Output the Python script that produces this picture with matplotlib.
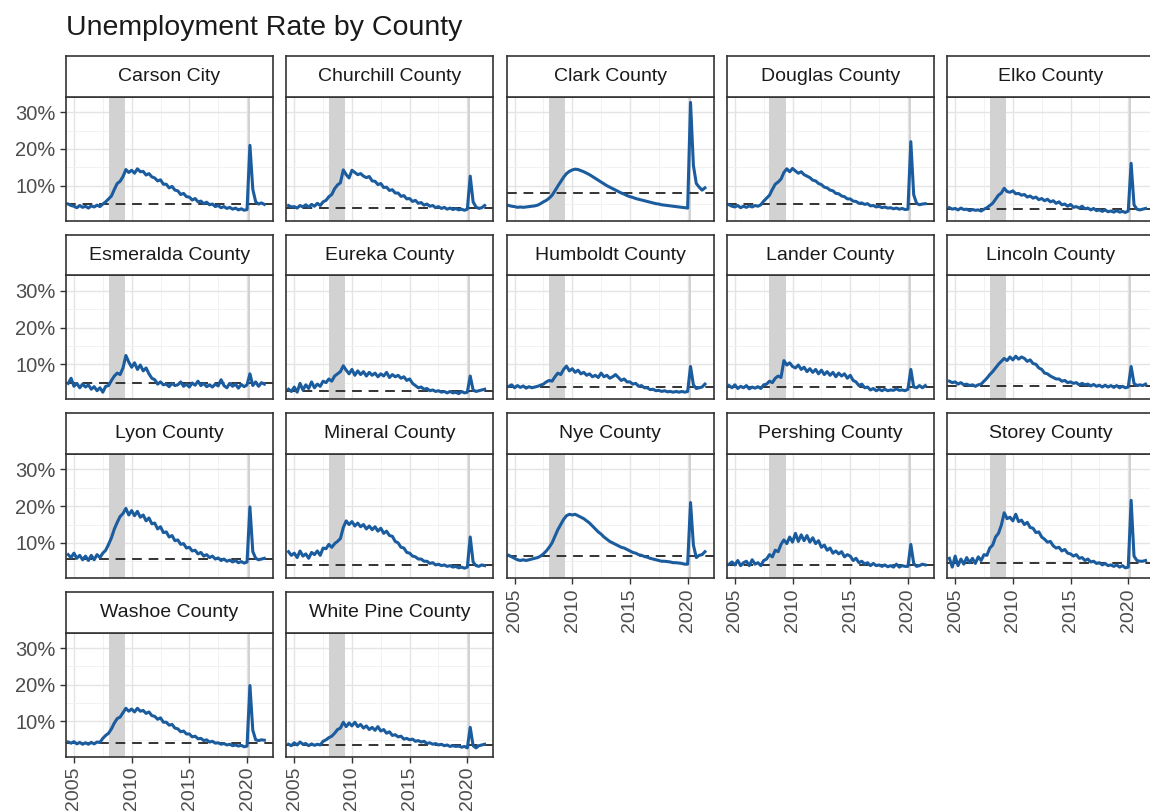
import matplotlib.pyplot as plt
import numpy as np
import pandas as pd
from matplotlib.ticker import FuncFormatter

plt.rcParams["font.family"] = ["Liberation Sans", "DejaVu Sans"]

# Quarterly unemployment rate (%), Jul 2004 - Jul 2021
dates = pd.date_range("2004-07-01", "2021-07-01", freq="QS")
years = dates.year + (dates.month - 1) / 12

carson_city = [5.0, 4.6,
               4.4, 4.0, 4.6, 4.1, 4.4, 3.9, 4.5, 4.2, 4.7, 4.3, 5.0, 5.6,
               6.4, 7.2, 9.0, 10.6, 11.2, 12.5, 14.4, 13.6, 14.2, 13.4, 14.6, 13.8,
               13.9, 12.9, 13.3, 12.4, 12.1, 11.3, 11.6, 10.4, 10.4, 9.4, 9.8, 8.8,
               8.6, 7.6, 7.9, 7.0, 6.9, 6.1, 6.5, 5.6, 5.8, 5.1, 5.5, 4.8,
               5.0, 4.3, 4.6, 4.0, 4.3, 3.8, 4.1, 3.6, 3.9, 3.4, 3.7, 3.3,
               3.5, 21.0, 9.0, 5.6, 5.0, 5.3, 4.9]
churchill = [4.6, 4.2,
             4.3, 3.9, 4.6, 4.2, 4.8, 4.1, 4.9, 4.4, 5.2, 4.6, 5.6, 6.0,
             7.0, 7.6, 9.2, 10.2, 10.8, 14.3, 13.0, 12.1, 14.2, 13.6, 13.0, 13.3,
             12.6, 12.2, 12.5, 11.3, 11.2, 10.3, 10.6, 9.5, 9.6, 8.7, 8.9, 8.0,
             8.0, 7.1, 7.3, 6.4, 6.5, 5.7, 6.0, 5.2, 5.4, 4.7, 5.0, 4.4,
             4.6, 4.0, 4.3, 3.8, 4.1, 3.6, 3.9, 3.5, 3.8, 3.4, 3.6, 3.3,
             3.6, 12.6, 5.6, 4.2, 3.8, 4.0, 4.6]
clark = [4.6, 4.4,
         4.3, 4.1, 4.2, 4.1, 4.2, 4.3, 4.4, 4.5, 4.7, 5.1, 5.6, 6.0,
         6.6, 7.4, 8.6, 9.9, 11.1, 12.3, 13.3, 13.9, 14.3, 14.5, 14.4, 14.1,
         13.8, 13.4, 13.0, 12.5, 12.0, 11.5, 11.0, 10.5, 10.0, 9.6, 9.2, 8.8,
         8.4, 8.0, 7.7, 7.3, 7.0, 6.8, 6.5, 6.3, 6.1, 5.9, 5.7, 5.5,
         5.3, 5.1, 5.0, 4.8, 4.7, 4.6, 4.5, 4.4, 4.3, 4.2, 4.1, 4.0,
         3.9, 32.7, 15.5, 10.6, 9.6, 8.8, 9.4]
douglas = [4.8, 4.4,
           4.2, 4.6, 4.0, 4.4, 4.1, 4.5, 4.2, 4.6, 4.4, 4.8, 5.8, 6.6,
           7.4, 9.0, 10.4, 11.0, 11.8, 13.6, 14.6, 13.8, 14.7, 14.0, 13.4, 13.8,
           13.0, 12.6, 12.2, 11.5, 11.3, 10.6, 10.3, 9.6, 9.4, 8.8, 8.6, 7.9,
           7.8, 7.2, 7.0, 6.4, 6.4, 5.8, 5.7, 5.2, 5.3, 4.9, 5.1, 4.5,
           4.6, 4.2, 4.4, 4.0, 4.2, 3.9, 4.0, 3.7, 3.9, 3.6, 3.8, 3.5,
           3.6, 22.0, 7.5, 5.2, 4.8, 5.0, 5.1]
elko = [4.0, 3.6,
        3.8, 3.4, 3.9, 3.5, 3.6, 3.2, 3.5, 3.3, 3.4, 3.1, 3.6, 4.0,
        4.6, 5.2, 6.3, 7.4, 8.0, 9.3, 8.4, 8.2, 8.6, 7.8, 7.9, 7.4,
        7.6, 6.9, 7.2, 6.6, 6.9, 6.2, 6.5, 5.9, 6.3, 5.6, 5.9, 5.2,
        5.6, 4.8, 5.0, 4.4, 4.9, 4.1, 4.3, 3.9, 4.4, 3.7, 3.9, 3.4,
        3.8, 3.2, 3.4, 3.0, 3.4, 2.9, 3.1, 2.8, 3.2, 2.8, 3.0, 2.7,
        3.1, 16.1, 4.8, 3.6, 3.4, 3.6, 3.8]
esmeralda = [4.8, 6.2,
             4.0, 4.8, 3.6, 4.6, 3.8, 4.4, 3.2, 3.9, 2.8, 3.6, 2.4, 4.0,
             4.2, 5.6, 6.8, 7.6, 7.2, 9.0, 12.4, 10.6, 9.2, 10.4, 8.6, 9.8,
             8.2, 9.0, 7.4, 6.2, 5.8, 4.6, 5.2, 4.4, 4.6, 3.9, 4.8, 4.2,
             4.4, 5.2, 4.0, 4.6, 3.8, 4.9, 4.3, 5.4, 4.2, 4.8, 3.9, 4.4,
             3.8, 4.6, 4.1, 5.8, 4.2, 3.6, 4.8, 4.0, 4.6, 3.5, 4.5, 3.9,
             4.4, 7.4, 4.2, 5.2, 4.0, 5.0, 4.6]
eureka = [3.2, 2.6,
          3.8, 2.4, 4.8, 3.0, 4.4, 3.4, 5.2, 3.6, 4.6, 4.0, 5.4, 5.0,
          6.0, 5.4, 6.8, 7.4, 8.0, 9.6, 8.4, 7.4, 8.6, 7.0, 8.2, 7.2,
          8.0, 6.8, 7.8, 7.0, 7.6, 6.6, 7.4, 6.8, 7.8, 6.4, 7.2, 6.6,
          7.0, 6.2, 6.6, 5.6, 6.0, 4.8, 4.2, 3.6, 3.8, 3.2, 3.4, 2.8,
          3.0, 2.6, 2.8, 2.4, 2.6, 2.2, 2.6, 2.2, 2.4, 2.0, 2.6, 2.2,
          2.4, 6.8, 3.0, 2.6, 2.8, 3.0, 3.2]
humboldt = [4.0, 4.4,
            3.6, 4.2, 3.7, 4.1, 3.5, 3.9, 3.6, 3.8, 4.0, 4.3, 4.6, 5.2,
            5.6, 5.4, 6.6, 7.6, 7.2, 8.6, 9.5, 8.2, 8.8, 7.8, 8.4, 7.4,
            7.8, 7.0, 7.4, 6.6, 7.0, 6.4, 7.6, 6.6, 7.0, 6.2, 6.6, 7.2,
            6.4, 5.6, 6.0, 5.2, 5.2, 4.6, 4.8, 4.0, 4.2, 3.6, 3.6, 3.1,
            3.2, 2.8, 2.9, 2.6, 2.8, 2.5, 2.6, 2.4, 2.6, 2.4, 2.6, 2.4,
            2.6, 9.4, 4.4, 3.4, 3.6, 3.8, 4.6]
lander = [4.2, 3.6,
          4.4, 3.4, 4.0, 3.6, 4.2, 3.3, 3.8, 3.5, 3.9, 3.4, 4.4, 4.6,
          5.4, 5.0, 6.2, 6.8, 6.4, 11.0, 9.8, 10.4, 9.4, 9.0, 9.8, 8.6,
          9.2, 8.0, 8.8, 7.8, 8.6, 7.4, 8.4, 7.2, 8.0, 7.0, 7.8, 6.6,
          7.6, 6.8, 7.4, 6.2, 7.0, 5.6, 5.2, 4.2, 4.6, 3.6, 3.8, 3.0,
          3.4, 2.8, 3.2, 2.8, 3.2, 2.8, 3.0, 2.9, 3.3, 2.9, 3.0, 2.8,
          3.2, 8.6, 3.8, 3.6, 4.2, 3.6, 4.2]
lincoln = [5.4, 5.0,
           5.2, 4.6, 5.0, 4.4, 4.6, 4.2, 4.4, 4.0, 4.4, 4.6, 5.4, 6.2,
           7.2, 8.0, 9.0, 10.0, 10.8, 11.6, 11.0, 12.0, 11.2, 12.2, 11.4, 12.0,
           11.6, 10.8, 11.2, 10.2, 10.0, 9.0, 8.6, 7.6, 7.4, 6.8, 6.4, 6.0,
           6.0, 5.4, 5.6, 5.0, 5.2, 4.8, 5.0, 4.4, 4.8, 4.4, 4.6, 4.1,
           4.5, 4.0, 4.3, 3.8, 4.3, 3.8, 4.2, 3.7, 4.2, 3.6, 4.0, 3.6,
           3.8, 9.4, 4.8, 4.2, 4.4, 4.2, 4.6]
lyon = [6.8, 6.0,
        7.2, 5.8, 6.6, 5.4, 6.4, 5.2, 6.6, 5.4, 6.8, 6.0, 7.2, 8.0,
        9.6, 11.4, 13.8, 15.6, 17.2, 18.0, 19.4, 17.6, 18.8, 17.4, 18.6, 17.0,
        17.6, 16.0, 16.8, 15.2, 15.4, 13.8, 14.4, 12.8, 13.0, 11.6, 12.0, 10.6,
        10.8, 9.6, 9.8, 8.6, 8.8, 7.8, 8.0, 7.0, 7.4, 6.4, 6.8, 6.0,
        6.4, 5.6, 5.9, 5.2, 5.6, 5.0, 5.3, 4.8, 5.2, 4.6, 4.9, 4.5,
        4.8, 19.8, 7.6, 5.8, 5.4, 5.6, 5.8]
mineral = [7.6, 6.6,
           7.2, 6.0, 7.8, 6.4, 7.0, 5.8, 7.4, 6.8, 7.8, 6.6, 8.6, 8.4,
           9.6, 8.8, 9.8, 10.4, 11.2, 14.2, 16.0, 15.0, 15.8, 14.6, 15.4, 14.4,
           15.0, 13.8, 14.6, 13.6, 14.4, 13.2, 14.0, 12.6, 13.2, 12.0, 11.8, 10.4,
           10.0, 8.8, 8.6, 7.4, 7.2, 6.4, 6.2, 5.6, 5.6, 5.0, 5.0, 4.4,
           4.6, 4.0, 4.2, 3.8, 4.0, 3.6, 3.8, 3.4, 3.6, 3.2, 3.4, 3.1,
           3.4, 11.6, 4.8, 3.8, 3.6, 4.0, 3.8]
nye = [6.6, 6.2,
       5.8, 5.4, 5.2, 5.4, 5.2, 5.4, 5.6, 5.8, 6.0, 6.4, 7.0, 7.8,
       8.8, 10.0, 11.8, 13.6, 15.0, 16.4, 17.4, 17.8, 17.6, 17.8, 17.4, 17.0,
       16.6, 16.0, 15.4, 14.6, 13.8, 13.0, 12.4, 11.6, 11.0, 10.4, 10.0, 9.6,
       9.2, 8.8, 8.6, 8.2, 7.8, 7.4, 7.2, 6.8, 6.6, 6.3, 6.1, 5.8,
       5.6, 5.4, 5.2, 5.0, 5.0, 4.9, 4.8, 4.6, 4.6, 4.5, 4.4, 4.2,
       4.2, 21.0, 9.4, 6.0, 6.6, 6.8, 7.6]
pershing = [4.2, 4.8,
            4.0, 5.2, 3.8, 4.6, 5.0, 3.8, 5.4, 4.2, 4.6, 3.8, 5.2, 5.6,
            6.8, 6.2, 8.0, 7.6, 9.6, 10.8, 9.8, 11.6, 10.2, 12.6, 10.4, 12.2,
            10.6, 12.0, 10.2, 11.4, 9.8, 10.6, 8.8, 9.4, 8.0, 8.6, 7.2, 7.8,
            7.0, 7.6, 6.2, 6.8, 6.4, 5.2, 5.8, 4.6, 5.0, 4.2, 4.6, 3.8,
            4.4, 3.8, 4.0, 3.6, 4.0, 3.5, 3.8, 3.4, 4.2, 3.4, 3.8, 3.6,
            3.6, 9.6, 4.4, 3.6, 3.8, 4.2, 4.0]
storey = [5.8, 3.4,
          6.4, 3.8, 5.6, 4.2, 6.0, 4.6, 5.8, 4.4, 6.2, 5.2, 6.8, 6.6,
          8.6, 9.4, 11.6, 12.6, 14.8, 18.2, 16.6, 17.0, 16.0, 17.8, 15.8, 16.2,
          15.0, 15.6, 14.2, 14.0, 12.8, 13.0, 11.6, 11.0, 10.2, 10.4, 9.2, 8.6,
          8.8, 7.8, 8.2, 7.2, 7.0, 6.4, 6.8, 5.8, 6.0, 5.2, 5.6, 4.8,
          5.0, 4.4, 4.6, 4.0, 4.4, 3.8, 4.0, 3.6, 4.0, 3.4, 3.8, 3.2,
          3.4, 21.6, 6.4, 5.2, 5.0, 5.0, 5.2]
washoe = [4.4, 4.1,
          4.5, 3.9, 4.3, 3.8, 4.2, 3.8, 4.3, 3.9, 4.4, 4.3, 5.4, 6.2,
          6.8, 8.0, 9.6, 10.8, 11.2, 12.4, 13.6, 12.8, 13.4, 12.6, 13.6, 12.8,
          13.0, 12.2, 12.6, 11.6, 11.4, 10.6, 11.0, 9.8, 9.8, 9.0, 9.2, 8.2,
          8.0, 7.2, 7.4, 6.6, 6.6, 5.8, 6.0, 5.3, 5.4, 4.8, 5.0, 4.4,
          4.6, 4.1, 4.2, 3.8, 4.0, 3.6, 3.8, 3.4, 3.6, 3.3, 3.5, 3.1,
          3.3, 19.8, 7.6, 5.0, 4.8, 5.0, 4.9]
white_pine = [3.8, 3.4,
              4.2, 3.6, 4.4, 3.8, 4.0, 3.4, 3.9, 3.5, 3.8, 3.6, 4.6, 5.0,
              5.6, 6.0, 6.8, 7.8, 8.2, 9.8, 8.6, 9.6, 8.8, 9.8, 8.6, 9.2,
              8.2, 8.8, 7.8, 8.4, 7.6, 8.6, 7.4, 7.8, 6.8, 7.2, 6.2, 6.4,
              5.8, 6.0, 5.2, 5.4, 5.0, 5.2, 4.6, 4.8, 4.4, 4.6, 4.0, 4.2,
              3.8, 4.0, 3.6, 3.8, 3.4, 3.6, 3.2, 3.4, 3.2, 3.3, 3.0, 3.2,
              2.8, 8.4, 3.4, 2.8, 3.4, 3.6, 3.8]

counties = ["Carson City", "Churchill County", "Clark County", "Douglas County",
            "Elko County", "Esmeralda County", "Eureka County", "Humboldt County",
            "Lander County", "Lincoln County", "Lyon County", "Mineral County",
            "Nye County", "Pershing County", "Storey County", "Washoe County",
            "White Pine County"]
rates = [carson_city, churchill, clark, douglas, elko, esmeralda, eureka,
         humboldt, lander, lincoln, lyon, mineral, nye, pershing, storey,
         washoe, white_pine]
# reference level drawn as a dashed line in each panel
reference_rate = [4.9, 4.0, 8.1, 4.9, 3.6, 4.9, 2.8, 3.8, 3.7, 4.2,
                  5.6, 3.9, 6.5, 4.0, 4.6, 4.1, 3.6]

recessions = [(2008.0, 2009.4), (2020.08, 2020.25)]

LINE_COLOR = "#1b5c9e"
BORDER = "#333333"
W, H = 1150, 811
ncol = 5


def px_box(x0, y0, w, h):
    """Pixel box (top-left origin) -> figure fraction rect."""
    return [x0 / W, 1 - (y0 + h) / H, w / W, h / H]


fig = plt.figure(figsize=(W / 100, H / 100), dpi=100)
fig.text(66 / W, 1 - 35 / H, "Unemployment Rate by County", fontsize=20.5,
         color="#1a1a1a", va="baseline", ha="left")

n = len(counties)
for i, (name, vals, ref) in enumerate(zip(counties, rates, reference_rate)):
    r, c = divmod(i, ncol)
    x0 = 66 + c * 220.3
    y0 = 96.7 + r * 178.6
    pw, ph, sh = 207, 124, 40.5

    ax = fig.add_axes(px_box(x0, y0, pw, ph))
    for lo, hi in recessions:
        ax.axvspan(lo, hi, color="#d2d2d2", lw=0, zorder=1)
    ax.axhline(ref, color=BORDER, lw=1.4, dashes=(5, 3.5), zorder=2)
    ax.plot(years, vals, color=LINE_COLOR, lw=2.2, zorder=3,
            solid_joinstyle="round")

    ax.set_xlim(2004.31, 2022.25)
    ax.set_ylim(0.46, 34.25)
    ax.set_xticks([2005, 2010, 2015, 2020])
    ax.set_xticks([2007.5, 2012.5, 2017.5], minor=True)
    ax.set_yticks([10, 20, 30])
    ax.set_yticks([5, 15, 25], minor=True)
    ax.yaxis.set_major_formatter(FuncFormatter(lambda v, p: f"{v:.0f}%"))
    ax.grid(which="major", color="#e4e4e4", lw=1.0)
    ax.grid(which="minor", color="#f2f2f2", lw=0.7)
    ax.set_axisbelow(True)
    for s in ax.spines.values():
        s.set_color(BORDER)
        s.set_linewidth(1.2)
        s.set_zorder(4)

    ax.tick_params(which="both", direction="out", length=4.5, width=1,
                   color=BORDER, labelsize=14.5, labelcolor="#4d4d4d", pad=3)
    ax.tick_params(which="minor", length=0)
    show_x = i + ncol >= n
    if show_x:
        ax.tick_params(axis="x", labelrotation=90, labelsize=14)
    else:
        ax.tick_params(axis="x", bottom=False, labelbottom=False)
    if c != 0:
        ax.tick_params(axis="y", left=False, labelleft=False)

    # facet strip
    sx = fig.add_axes(px_box(x0, y0 - sh, pw, sh))
    sx.set_xticks([])
    sx.set_yticks([])
    sx.set_facecolor("white")
    for s in sx.spines.values():
        s.set_color(BORDER)
        s.set_linewidth(1.2)
    sx.text(0.5, 0.5, name, ha="center", va="center", fontsize=14,
            color="#1a1a1a", transform=sx.transAxes)

fig.savefig("out.png", dpi=100)
